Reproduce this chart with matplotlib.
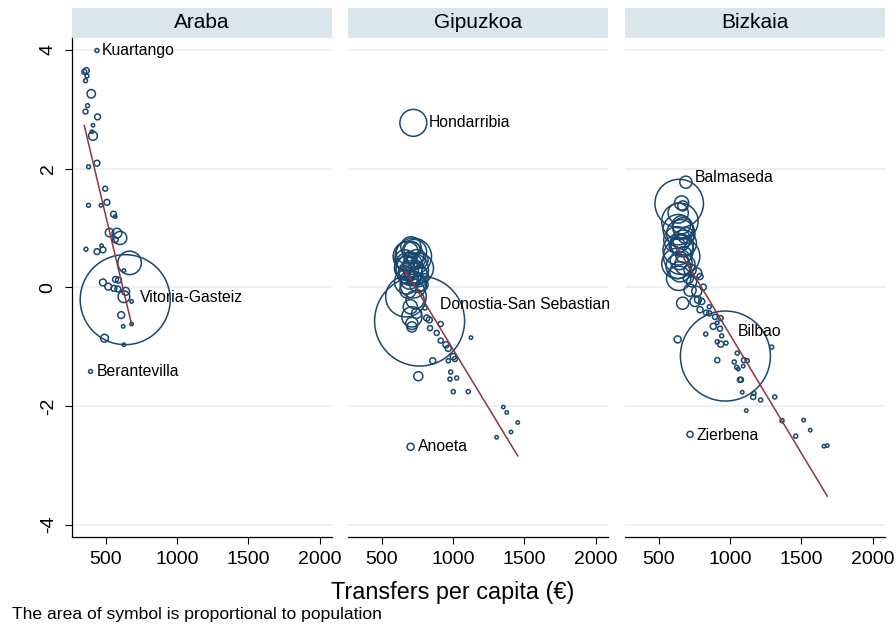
import numpy as np
import matplotlib.pyplot as plt
from matplotlib.patches import Rectangle

plt.rcParams['font.family'] = ['Liberation Sans', 'DejaVu Sans']

provinces = ["Araba", "Gipuzkoa", "Bizkaia"]

# ---- Araba (labelled towns come first) ----
araba_names = ["Vitoria-Gasteiz", "Kuartango", "Berantevilla"]
araba_x = [637, 439, 394, 364, 350, 369, 359, 399, 373, 359, 443, 411, 411, 404,
           439, 380, 497, 509, 467, 380, 555, 567, 527, 579, 602, 567, 362, 439,
           481, 471, 668, 628, 569, 590, 481, 518, 558, 585, 628, 640, 682, 609,
           623, 682, 492, 628]
araba_y = [-0.21, 3.99, -1.42, 3.65, 3.63, 3.56, 3.48, 3.26, 3.06, 2.96, 2.87, 2.73,
           2.55, 2.62, 2.09, 2.03, 1.66, 1.43, 1.38, 1.38, 1.23, 1.19, 0.92, 0.91,
           0.83, 0.80, 0.64, 0.60, 0.63, 0.70, 0.41, 0.28, 0.13, 0.12, 0.08, 0.01,
           -0.02, -0.03, -0.16, -0.07, -0.24, -0.47, -0.66, -0.62, -0.86, -0.97]
araba_pop = [244000, 460, 460, 1040, 720, 460, 460, 2130, 460, 720, 1040, 260,
             2330, 260, 1040, 460, 720, 1040, 260, 460, 1040, 260, 2130, 2880,
             5180, 1040, 460, 1040, 1040, 260, 16600, 260, 1040, 1040, 1410, 1410,
             1040, 1040, 4150, 1850, 260, 1410, 260, 260, 1850, 260]

# ---- Gipuzkoa ----
gipuzkoa_names = ["Donostia-San Sebastian", "Hondarribia", "Anoeta"]
gipuzkoa_x = [766, 722, 703, 670, 687, 722, 675, 757, 701, 757, 675, 722, 663, 769,
              701, 713, 663, 736, 783, 804, 684, 701, 712, 712, 712, 745, 734,
              680, 705, 730, 695, 740, 690, 715, 745, 700, 725, 670, 752,
              804, 816, 834, 914, 839, 886, 914, 951, 967, 1126, 1002, 1014, 967,
              858, 757, 984, 979, 1026, 1002, 1107, 1353, 1377, 1454, 1407, 1306]
gipuzkoa_y = [-0.57, 2.77, -2.69, -0.16, 0.52, 0.52, 0.32, 0.32, 0.24, 0.18, 0.09,
              0.04, 0.46, 0.46, 0.40, 0.63, 0.26, 0.38, 0.04, 0.16, -0.05, -0.33,
              -0.50, -0.61, -0.67, -0.44, -0.21,
              0.58, 0.68, 0.60, 0.12, 0.22, 0.35, 0.30, 0.48, 0.50, 0.15, 0.20, 0.05,
              -0.35, -0.52, -0.55, -0.62, -0.69, -0.77, -0.90, -0.97, -1.03, -0.85,
              -1.17, -1.21, -1.24, -1.24, -1.50, -1.43, -1.55, -1.53, -1.76, -1.76,
              -2.02, -2.11, -2.28, -2.44, -2.53]
gipuzkoa_pop = [186000, 16600, 1150, 37600, 21100, 30400, 13500, 21100, 13500, 9400,
                13500, 15900, 9400, 6000, 4600, 6000, 3380, 2350, 3380, 1500, 6000,
                4600, 9400, 3380, 2350, 2350, 7600,
                11400, 9400, 13500, 7600, 11400, 18400, 24000, 7600, 3380, 4600, 6000,
                6000,
                380, 850, 850, 590, 590, 590, 590, 850, 850, 210, 850, 590, 380, 850,
                1900, 380, 380, 380, 380, 380, 210, 210, 210, 210, 210]

# ---- Bizkaia ----
bizkaia_names = ["Bilbao", "Balmaseda", "Zierbena"]
bizkaia_x = [968, 691, 720, 644, 661, 670, 637, 649, 637, 670, 628, 673, 637, 661,
             628, 637, 684, 649, 630, 691, 655, 665, 645, 660, 650, 675, 640,
             720, 767, 790, 708, 731, 720, 767, 813, 755, 776, 802, 668, 790, 832,
             855, 855, 895, 935, 883, 930, 911, 830, 942, 911, 935, 972, 633, 1051,
             911, 1030, 1047, 1058, 1098, 1121, 1093, 1070, 1077, 1292, 1086, 1168,
             1163, 1215, 1314, 1114, 1365, 1517, 1563, 1461, 1659, 1682]
bizkaia_y = [-1.16, 1.77, -2.48, 1.41, 1.42, 1.37, 1.25, 1.11, 0.97, 1.00, 0.80,
             0.74, 0.63, 0.52, 0.40, 0.35, 0.38, 0.26, 0.70, 0.87, 0.90, 0.70, 0.45,
             1.05, 0.78, 0.55, 0.15,
             0.29, 0.24, 0.18, 0.15, 0.09, -0.05, -0.07, 0.00, -0.24, -0.21, -0.24,
             -0.27, -0.38, -0.43, -0.44, -0.33, -0.50, -0.52, -0.66, -0.70, -0.60,
             -0.79, -0.82, -0.92, -0.96, -0.94, -0.88, -1.11, -1.23, -1.26, -1.35,
             -1.38, -1.23, -1.24, -1.33, -1.56, -1.56, -1.01, -1.77, -1.79, -1.85,
             -1.90, -1.85, -2.08, -2.25, -2.24, -2.41, -2.51, -2.68, -2.67]
bizkaia_pop = [345000, 6270, 1570, 100300, 8540, 4350, 17400, 56400, 39200, 17400,
               29400, 29400, 39200, 56400, 39200, 25100, 17400, 17400, 11150, 11150,
               34100, 21100, 14100, 14100, 8540, 11150, 25100,
               6270, 4350, 1570, 4350, 4350, 6270, 4350, 1570, 4350, 2130, 1570,
               6270, 1570, 1090, 1090, 700, 1090, 1090, 1570, 1090, 390, 700, 700,
               700, 1570, 700, 2130, 700, 1090, 700, 700, 390, 1090, 700, 390, 1090,
               1090, 700, 390, 700, 1090, 700, 700, 390, 700, 390, 390, 700, 390, 390]

# linear fit of residual on transfers, per province
fit_intercept = [6.26, 2.915, 3.19]
fit_slope = [-0.0101, -0.00396, -0.00399]

label_offsets = {  # pixels (dx, dy), dy positive = up
    "Vitoria-Gasteiz": (15, 2), "Kuartango": (5, 0), "Berantevilla": (6, 0),
    "Donostia-San Sebastian": (20, 17), "Hondarribia": (15, 0), "Anoeta": (7.5, 0),
    "Bilbao": (12, 25), "Balmaseda": (9, 5), "Zierbena": (6, -1.5),
}

data = [
    (araba_names, araba_x, araba_y, araba_pop),
    (gipuzkoa_names, gipuzkoa_x, gipuzkoa_y, gipuzkoa_pop),
    (bizkaia_names, bizkaia_x, bizkaia_y, bizkaia_pop),
]

navy = "#1a476f"
maroon = "#90353b"
W, H = 896, 630
fig = plt.figure(figsize=(W / 100, H / 100), dpi=100)

lefts = [72, 348, 625]
pw, top, bottom = 260, 38, 537
rmax_pt = 2 * 45 * 0.72

for i, (name, (names, xs, ys, pops)) in enumerate(zip(provinces, data)):
    ax = fig.add_axes([lefts[i] / W, 1 - bottom / H, pw / W, (bottom - top) / H])
    xs = np.array(xs, float)
    ys = np.array(ys, float)
    pops = np.array(pops, float)
    sizes = np.maximum(rmax_pt ** 2 * pops / pops.max(), 6)

    ax.scatter(xs, ys, s=sizes, facecolors="none", edgecolors=navy,
               linewidths=1.1, zorder=3)
    xx = np.array([xs.min(), xs.max()])
    ax.plot(xx, fit_intercept[i] + fit_slope[i] * xx, color=maroon, lw=1.1, zorder=4)

    for k, nm in enumerate(names):
        dx, dy = label_offsets[nm]
        ax.annotate(nm, (xs[k], ys[k]), xytext=(dx * 0.72, dy * 0.72),
                    textcoords="offset points", ha="left", va="center",
                    fontsize=11.3, color="black", zorder=5)

    ax.set_xlim(264, 2087)
    ax.set_ylim(-4.21, 4.20)
    ax.set_xticks([500, 1000, 1500, 2000])
    ax.set_yticks([-4, -2, 0, 2, 4])
    ax.set_yticklabels(["-4", "-2", "0", "2", "4"])
    ax.grid(axis="y", color="#e8eff3", lw=1.3, zorder=0)
    ax.set_axisbelow(True)
    ax.tick_params(axis="x", direction="out", length=5, width=0.8, labelsize=14, pad=5)
    for s in ["top", "right"]:
        ax.spines[s].set_visible(False)
    ax.spines["bottom"].set_linewidth(0.9)
    if i == 0:
        ax.spines["left"].set_linewidth(0.9)
        ax.tick_params(axis="y", direction="out", length=5, width=0.8,
                       labelsize=14, pad=6, labelrotation=90)
        for lab in ax.get_yticklabels():
            lab.set_va("center")
    else:
        ax.spines["left"].set_visible(False)
        ax.tick_params(axis="y", length=0, labelleft=False)

    hh = 30.5 / (bottom - top)
    ax.add_patch(Rectangle((0, 1), 1, hh, transform=ax.transAxes,
                           facecolor="#d9e6eb", edgecolor="none", clip_on=False))
    ax.text(0.5, 1 + hh / 2, name, transform=ax.transAxes, ha="center",
            va="center", fontsize=15)

fig.text(453 / W, 1 - 593 / H, "Transfers per capita (€)", ha="center",
         va="center", fontsize=16.8)
fig.text(11.7 / W, 1 - 615 / H, "The area of symbol is proportional to population",
         ha="left", va="center", fontsize=12.6)

fig.savefig("out.png", dpi=100, facecolor="white")
